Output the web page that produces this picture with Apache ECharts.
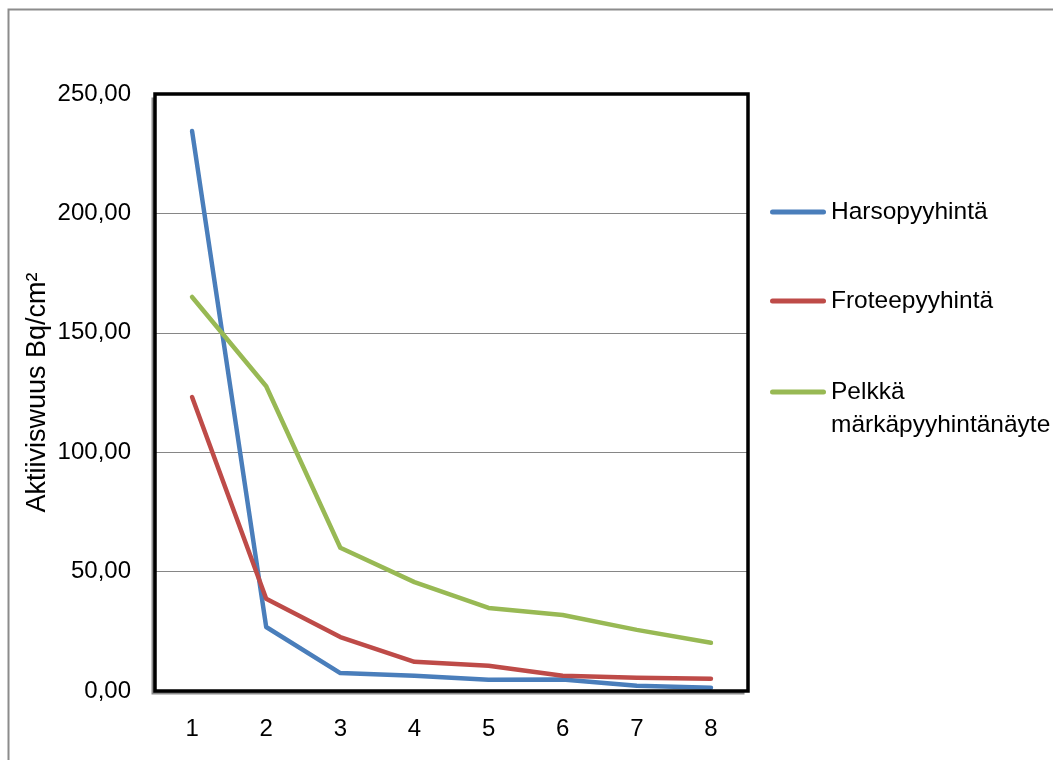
<!DOCTYPE html>
<html>
<head>
<meta charset="utf-8">
<script src="https://cdn.jsdelivr.net/npm/echarts@6/dist/echarts.min.js"></script>
<style>
  html, body { margin: 0; padding: 0; background: #fff; }
  #chart { width: 1053px; height: 760px; }
</style>
</head>
<body>
<div id="chart"></div>
<script>
// Measurement rounds 1–8
const categories = ['1', '2', '3', '4', '5', '6', '7', '8'];

// Activity (Bq/cm²) per wipe round
const harso = [234.5, 26.8, 7.5, 6.4, 4.7, 4.8, 2.2, 1.4];
const frotee = [123.1, 38.6, 22.6, 12.2, 10.6, 6.4, 5.6, 5.1];
const pelkka = [165.0, 127.6, 60.0, 45.6, 34.8, 31.8, 25.6, 20.2];

const seriesNames = ['Harsopyyhintä', 'Froteepyyhintä', 'Pelkkä märkäpyyhintänäyte'];
const seriesColors = ['#4A7EBB', '#BE4B48', '#98B954'];
const seriesData = [harso, frotee, pelkka];

const yAxisTitle = 'Aktiiviswuus Bq/cm²';
const font = '"Liberation Sans", Arial, sans-serif';

const chart = echarts.init(document.getElementById('chart'), null, { renderer: 'canvas' });

// Rounded bar used as the legend key, drawn in the series colour
const keyIcon = 'path://M2.5,0 L53.5,0 A2.5,2.5 0 0 1 53.5,5 L2.5,5 A2.5,2.5 0 0 1 2.5,0 Z';

const legendText = { fontFamily: font, fontSize: 24.5, color: '#000', lineHeight: 33 };

function legendFor(idx, top, extra) {
  return Object.assign({
    orient: 'vertical',
    left: 770,
    top: top,
    padding: 0,
    itemWidth: 56,
    itemHeight: 5,
    itemGap: 0,
    icon: keyIcon,
    selectedMode: false,
    data: [seriesNames[idx]],
    textStyle: legendText
  }, extra || {});
}

const legends = [
  legendFor(0, 195.5),
  legendFor(1, 284.5),
  // long name wraps; a leading blank line keeps the key level with "Pelkkä"
  legendFor(2, 342.5, { formatter: () => ' \nPelkkä\nmärkäpyyhintänäyte' })
];

const plotRect = { left: 155, right: 305, top: 94, bottom: 69 };

chart.setOption({
  backgroundColor: '#fff',
  animation: false,
  graphic: [{
    type: 'rect',
    left: 6,
    top: 7,
    shape: { width: 1100, height: 800 },
    style: { fill: 'none', stroke: '#8c8c8c', lineWidth: 2 },
    silent: true,
    z: -10
  }],
  grid: [
    // plot background with a grey drop edge on the left and bottom
    Object.assign({
      show: true,
      backgroundColor: '#fff',
      borderWidth: 0,
      shadowColor: '#8c8c8c',
      shadowBlur: 0,
      shadowOffsetX: -3.5,
      shadowOffsetY: 3.5
    }, plotRect),
    // heavy black frame
    Object.assign({
      show: true,
      backgroundColor: 'transparent',
      borderColor: '#000',
      borderWidth: 3.5,
      z: 10
    }, plotRect)
  ],
  legend: legends,
  xAxis: [{
    type: 'category',
    gridIndex: 0,
    data: categories,
    boundaryGap: true,
    axisLine: { show: false },
    axisTick: { show: false },
    axisLabel: { fontFamily: font, fontSize: 24, color: '#000', margin: 26 },
    splitLine: { show: false }
  }, {
    type: 'category',
    gridIndex: 1,
    data: categories,
    show: false
  }],
  yAxis: [{
    type: 'value',
    gridIndex: 0,
    min: 0,
    max: 250,
    interval: 50,
    name: yAxisTitle,
    nameLocation: 'middle',
    nameGap: 104,
    nameMoveOverlap: false,
    nameTextStyle: { fontFamily: font, fontSize: 27, color: '#000' },
    axisLine: { show: false },
    axisTick: { show: false },
    axisLabel: {
      fontFamily: font, fontSize: 24, color: '#000', margin: 24,
      formatter: v => v.toFixed(2).replace('.', ',')
    },
    splitLine: { lineStyle: { color: '#868686', width: 1.2 } }
  }, {
    type: 'value',
    gridIndex: 1,
    min: 0,
    max: 250,
    interval: 50,
    show: false,
    splitLine: { show: false }
  }],
  series: seriesNames.map((name, i) => ({
    name,
    type: 'line',
    xAxisIndex: 0,
    yAxisIndex: 0,
    data: seriesData[i],
    symbol: 'none',
    smooth: false,
    color: seriesColors[i],
    lineStyle: { width: 4.5, color: seriesColors[i], cap: 'round', join: 'round' },
    z: 3 + i
  }))
});
</script>
</body>
</html>
